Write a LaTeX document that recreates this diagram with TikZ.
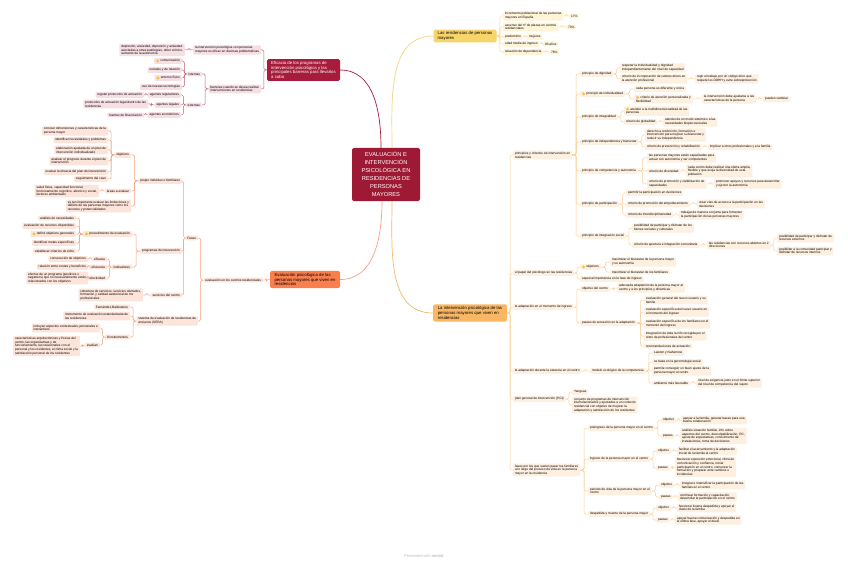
\documentclass[tikz,border=0pt]{standalone}
\usepackage{fontspec}
\setmainfont{Liberation Sans}
\usetikzlibrary{calc}
\definecolor{CoreRed}{RGB}{158,26,52}
\definecolor{EfRed}{RGB}{166,28,58}
\definecolor{EfSoft}{RGB}{246,222,227}
\definecolor{EfLine}{RGB}{196,92,120}
\definecolor{EvOrange}{RGB}{250,126,78}
\definecolor{EvSoft}{RGB}{253,228,218}
\definecolor{EvLine}{RGB}{246,160,128}
\definecolor{ResYellow}{RGB}{247,213,106}
\definecolor{ResSoft}{RGB}{255,244,216}
\definecolor{ResLine}{RGB}{246,214,128}
\definecolor{IntOrange}{RGB}{249,183,100}
\definecolor{IntSoft}{RGB}{254,240,224}
\definecolor{IntLine}{RGB}{250,206,150}
\definecolor{IconYellow}{RGB}{248,197,44}
\newcommand{\faceicon}{\tikz[baseline=-1pt]{\fill[IconYellow] (0,0) circle (1.6pt);}\hspace{1.2pt}}
\tikzset{
  core/.style={fill=CoreRed,text=white,rounded corners=2pt,align=center,
    font=\fontsize{5.7}{8}\selectfont,minimum width=68pt,minimum height=53pt,inner sep=2pt},
  topic/.style={rounded corners=1.5pt,align=left,font=\fontsize{4.3}{4.9}\selectfont,
    inner xsep=3pt,inner ysep=2pt},
  leaf/.style={rounded corners=1pt,align=left,font=\fontsize{3.2}{3.7}\selectfont,
    inner xsep=1.8pt,inner ysep=1.3pt},
  efnode/.style={leaf,fill=EfSoft,anchor=east},
  evnode/.style={leaf,fill=EvSoft,anchor=east},
  resnode/.style={leaf,fill=ResSoft,anchor=west},
  intnode/.style={leaf,fill=IntSoft,anchor=west},
  elbow/.style={rounded corners=1.5pt,line width=0.5pt,
    to path={-- ($(\tikztostart)!0.5!(\tikztostart-|\tikztotarget)$) |- (\tikztotarget)}},
  eflink/.style={elbow,draw=EfLine},
  evlink/.style={elbow,draw=EvLine},
  reslink/.style={elbow,draw=ResLine},
  intlink/.style={elbow,draw=IntLine},
  mainlink/.style={line width=0.7pt}
}
\begin{document}
\begin{tikzpicture}[x=1pt,y=-1pt]
\fill[white] (0,0) rectangle (848,564);
\useasboundingbox (0,0) rectangle (848,564);

% centre and main topics
\node[core] (core) at (386,174.5) {EVALUACIÓN E\\INTERVENCIÓN\\PSICOLÓGICA EN\\RESIDENCIAS DE\\PERSONAS\\MAYORES};
\node[topic,fill=ResYellow,minimum width=63pt,minimum height=12pt] (res) at (465,36) {Las residencias de personas\\mayores};
\node[topic,fill=EfRed,text=white,minimum width=73pt] (ef) at (303.5,70) {Eficacia de los programas de\\intervención psicológica y las\\principales barreras para llevarlos\\a cabo};
\node[topic,fill=EvOrange,minimum width=70pt] (ev) at (305,279.5) {Evaluación psicológica de las\\personas mayores que viven en\\residencias};
\node[topic,fill=IntOrange,minimum width=74pt] (int) at (470,313) {La intervención psicológica de las\\personas mayores que viven en\\residencias};

\draw[mainlink,ResLine] ([xshift=6pt]core.north) to[out=90,in=180] (res.west);
\draw[mainlink,EfRed] ([xshift=-5pt]core.north) to[out=90,in=0] (ef.east);
\draw[mainlink,EvLine] ([xshift=-4pt]core.south) to[out=-90,in=0] (ev.east);
\draw[mainlink,IntOrange] ([xshift=6pt]core.south) to[out=-90,in=180] (int.west);

% las residencias
\node[resnode] (resPob) at (503,16) {incremento poblacional de las personas\\mayores en España};
\node[resnode] (resPob17) at (569,16) {17\%};
\node[resnode] (resPlz) at (503,27) {ascenso del nº de plazas en centros\\residenciales};
\node[resnode] (resPlz73) at (566,27) {73\%};
\node[resnode] (resPred) at (503,37) {predominio};
\node[resnode] (resMuj) at (527,37) {mujeres};
\node[resnode] (resEdad) at (503,44) {edad media de ingreso};
\node[resnode] (resAnos) at (543,44) {83 años};
\node[resnode] (resDep) at (503,52) {situación de dependencia};
\node[resnode] (resDep76) at (549,52) {76\%};

% eficacia
\node[efnode] (efEficaz) at (261,50) {la intervención psicológica con personas\\mayores es eficaz en diversas problemáticas};
\node[efnode] (efPatol) at (185,50) {depresión, ansiedad, depresión y ansiedad\\asociadas a otras patologías, dolor crónico,\\aumento de la autonomía};
\node[efnode] (efBarr) at (261,89) {barreras cuando se desea realizar\\intervenciones en residencias};
\node[efnode] (efInt) at (202,74) {internas};
\node[efnode] (efCom) at (182,61) {\faceicon comunicación};
\node[efnode] (efSoc) at (182,70) {sociales y de relación};
\node[efnode] (efEnt) at (182,78) {\faceicon entorno físico};
\node[efnode] (efTec) at (182,87) {uso de nuevas tecnologías};
\node[efnode] (efExt) at (202,105) {externas};
\node[efnode] (efReg) at (181,95) {agentes reguladores};
\node[efnode] (efLeg) at (181,105) {agentes legales};
\node[efnode] (efEco) at (181,115) {agentes económicos};
\node[efnode] (efProt) at (144,95) {regular protocolos de actuación};
\node[efnode] (efProtL) at (148,104) {protocolos de actuación legal dentro de las\\residencias};
\node[efnode] (efFin) at (144,115) {fuentes de financiación};

% evaluacion
\node[evnode] (evCentros) at (263,280) {evaluación en los centros residenciales};
\node[evnode] (evFases) at (198,238) {Fases};
\node[evnode] (evSera) at (198,321) {sistema de evaluación de residencias de\\ancianos (SERA)};
\node[evnode] (evPropio) at (182,181) {propio individuo o familiares};
\node[evnode] (evProg) at (182,251) {programas de intervención};
\node[evnode] (evServ) at (182,295) {servicios del centro};
\node[evnode] (evObj) at (131,155) {objetivos};
\node[evnode] (evAreas) at (131,191) {áreas a evaluar};
\node[evnode] (evLimit) at (131,206) {es tan importante evaluar las limitaciones y\\déficits de las personas mayores como los\\recursos y potencialidades};
\node[evnode] (evO1) at (108,131) {conocer dimensiones y características de la\\persona mayor};
\node[evnode] (evO2) at (108,140) {identificar necesidades y problemas};
\node[evnode] (evO3) at (108,150) {elaboración ajustada de un plan de\\intervención individualizado};
\node[evnode] (evO4) at (108,161) {analizar el progreso durante el plan de\\intervención};
\node[evnode] (evO5) at (108,172) {evaluar la eficacia del plan de intervención};
\node[evnode] (evO6) at (108,179) {seguimiento del caso};
\node[evnode] (evSalud) at (99,191) {salud física, capacidad funcional,\\funcionamiento cognitivo, afectivo y social,\\factores ambientales};
\node[evnode] (evProc) at (132,234) {\faceicon procedimiento de evaluación};
\node[evnode] (evInd) at (132,267) {indicadores};
\node[evnode] (evP1) at (76,218) {análisis de necesidades};
\node[evnode] (evP2) at (76,226) {evaluación de recursos disponibles};
\node[evnode] (evP3) at (76,234) {\faceicon definir objetivos generales};
\node[evnode] (evP4) at (76,243) {identificar metas específicas};
\node[evnode] (evP5) at (76,251) {establecer criterios de éxito};
\node[evnode] (evEficacia) at (107,259) {eficacia};
\node[evnode] (evEficiencia) at (107,267) {eficiencia};
\node[evnode] (evEfectiv) at (107,278) {efectividad};
\node[evnode] (evConsec) at (88,259) {consecución de objetivos};
\node[evnode] (evCostes) at (88,267) {relación entre costes y beneficios};
\node[evnode] (evEfectos) at (88,278) {efectos de un programa (positivos o\\negativos) que no necesariamente están\\relacionados con los objetivos};
\node[evnode] (evCobert) at (143,295) {cobertura de servicios, servicios ofertados,\\formación y calidad asistencial de los\\profesionales};
\node[evnode] (evFdez) at (130,307) {Fernández-Ballesteros};
\node[evnode] (evEstand) at (130,316) {instrumento de evaluación estandarizada de\\las residencias};
\node[evnode] (evOcho) at (130,337) {8 instrumentos};
\node[evnode] (evIncl) at (100,328) {incluyen aspectos contextuales, personales e\\interactivos};
\node[evnode] (evEvalua) at (100,345) {evalúan};
\node[evnode] (evCaract) at (80,346) {características arquitectónicas y físicas del\\centro, las organizativas y de\\funcionamiento, las relacionales con el\\personal y los residentes, el clima social y la\\satisfacción personal de los residentes};

% intervencion: principios
\node[intnode] (inPrinc) at (513,155) {principios y criterios de intervención en\\residencias};
\node[intnode] (inDign) at (580,74) {principio de dignidad};
\node[intnode] (inDign1) at (620,68) {respetar la individualidad y dignidad\\independientemente del nivel de capacidad};
\node[intnode] (inDign2) at (620,79) {criterio de incorporación de valores éticos en\\la atención profesional};
\node[intnode] (inDign2a) at (695,79) {regir el trabajo por un código ético que\\respete los DDHH y evite sobreprotección};
\node[intnode] (inIndiv) at (580,94) {\faceicon principio de individualidad};
\node[intnode] (inIndiv1) at (634,89) {cada persona es diferente y única};
\node[intnode] (inIndiv2) at (634,99) {\faceicon criterio de atención personalizada y\\flexibilidad};
\node[intnode] (inIndiv2a) at (702,99) {la intervención debe ajustarse a las\\características de la persona};
\node[intnode] (inIndiv2b) at (763,99) {pueden cambiar};
\node[intnode] (inInteg) at (580,117) {principio de integralidad};
\node[intnode] (inInteg1) at (624,111) {\faceicon atender a la multidimensionalidad de las\\personas};
\node[intnode] (inInteg2) at (624,122) {criterio de globalidad};
\node[intnode] (inInteg2a) at (663,122) {atender de un modo sistémico a las\\necesidades biopsicosociales};
\node[intnode] (inIndep) at (580,142) {principio de independencia y bienestar};
\node[intnode] (inIndep1) at (645,135) {derecho a recibir info, formación e\\intervención para mejorar su bienestar y\\reducir su independencia};
\node[intnode] (inIndep2) at (645,147) {criterio de prevención y rehabilitación};
\node[intnode] (inIndep2a) at (708,147) {implicar a otros profesionales y a la familia};
\node[intnode] (inComp) at (580,171) {principio de competencia y autonomía};
\node[intnode] (inComp1) at (647,158) {las personas mayores están capacitadas para\\actuar con autonomía y ser competentes};
\node[intnode] (inComp2) at (647,171) {criterio de diversidad};
\node[intnode] (inComp2a) at (686,171) {cada centro debe realizar una oferta amplia,\\flexible y que acoja la diversidad de esta\\población};
\node[intnode] (inComp3) at (647,184) {criterio de promoción y visibilización de\\capacidades};
\node[intnode] (inComp3a) at (714,184) {promover apoyos y recursos para desarrollar\\y ejercer la autonomía};
\node[intnode] (inPart) at (580,204) {principio de participación};
\node[intnode] (inPart1) at (626,193) {permitir la participación en decisiones};
\node[intnode] (inPart2) at (626,204) {criterio de promoción del empoderamiento};
\node[intnode] (inPart2a) at (697,204) {crear vías de acceso a la participación en las\\decisiones};
\node[intnode] (inPart3) at (626,215) {criterio de interdisciplinariedad};
\node[intnode] (inPart3a) at (679,215) {trabajar de manera conjunta para fomentar\\la participación de las personas mayores};
\node[intnode] (inSoc) at (580,236) {principio de integración social};
\node[intnode] (inSoc1) at (632,228) {posibilidad de participar y disfrutar de los\\bienes sociales y culturales};
\node[intnode] (inSoc2) at (632,245) {criterio de apertura e integración comunitaria};
\node[intnode] (inSoc2a) at (707,245) {las residencias son recursos abiertos en 2\\direcciones};
\node[intnode] (inSoc2b) at (777,238) {posibilidad de participar y disfrutar de\\recursos externos};
\node[intnode] (inSoc2c) at (777,251) {posibilitar a la comunidad participar y\\disfrutar de recursos internos};

% intervencion: psicologo, adaptacion, pgi
\node[intnode] (inPapel) at (513,273) {el papel del psicólogo en las residencias};
\node[intnode] (inPapelObj) at (580,267) {\faceicon objetivos};
\node[intnode] (inPapelObj1) at (610,262) {maximizar el bienestar de la persona mayor\\y su autonomía};
\node[intnode] (inPapelObj2) at (610,272) {maximizar el bienestar de los familiares};
\node[intnode] (inPapelFase) at (580,279) {especial importancia en la fase de ingreso};
\node[intnode] (inIngreso) at (513,307) {la adaptación en el momento de ingreso};
\node[intnode] (inIngObj) at (580,289) {objetivo del centro};
\node[intnode] (inIngObj1) at (617,288) {adecuada adaptación de la persona mayor al\\centro y a los principios y dinámicas};
\node[intnode] (inIngPaut) at (580,323) {pautas de actuación en la adaptación};
\node[intnode] (inIngP1) at (644,300) {evaluación general del nuevo usuario y su\\familia};
\node[intnode] (inIngP2) at (644,312) {evaluación específica del nuevo usuario en\\el momento del ingreso};
\node[intnode] (inIngP3) at (644,324) {evaluación específica de los familiares en el\\momento del ingreso};
\node[intnode] (inIngP4) at (644,336) {integración de toda la info recogida por el\\resto de profesionales del centro};
\node[intnode] (inIngP5) at (644,346) {recomendaciones de actuación};
\node[intnode] (inEstancia) at (513,371) {la adaptación durante la estancia en el centro};
\node[intnode] (inModelo) at (590,371) {modelo ecológico de la competencia};
\node[intnode] (inMod1) at (652,353) {Lawton y Nahemow};
\node[intnode] (inMod2) at (652,362) {se basa en la gerontología social};
\node[intnode] (inMod3) at (652,371) {permite conseguir un buen ajuste de la\\persona mayor al centro};
\node[intnode] (inMod4) at (652,383) {ambiente más favorable};
\node[intnode] (inMod4a) at (696,383) {nivel de exigencia justo en el límite superior\\del nivel de competencia del sujeto};
\node[intnode] (inPgi) at (513,399) {plan general de intervención (PGI)};
\node[intnode] (inPgi1) at (572,392) {Yanguas};
\node[intnode] (inPgi2) at (572,405) {conjunto de programas de intervención\\interrelacionados y ajustados a un contexto\\residencial con objetivo de mejorar la\\adaptación y satisfacción de los residentes};

% intervencion: fases de los familiares
\node[intnode] (inFam) at (513,470) {fases por los que suelen pasar los familiares\\a lo largo del proceso de vida en la persona\\mayor en la residencia};
\node[intnode] (inPre) at (588,428) {preingreso de la persona mayor en el centro};
\node[intnode] (inPreObj) at (661,420) {objetivo};
\node[intnode] (inPreObjT) at (681,420) {apoyar a la familia, generar bases para una\\buena colaboración};
\node[intnode] (inPrePau) at (661,436) {pautas};
\node[intnode] (inPrePauT) at (680,436) {análisis situación familiar, info sobre\\aspectos del centro, desculpabilización, RC,\\ajuste de expectativas, conocimiento de\\instalaciones, toma de decisiones};
\node[intnode] (inIng) at (588,459) {ingreso de la persona mayor en el centro};
\node[intnode] (inIngO) at (656,451) {objetivo};
\node[intnode] (inIngOT) at (677,451) {facilitar el acercamiento y la adaptación\\inicial de la familia al centro};
\node[intnode] (inIngPa) at (656,468) {pautas};
\node[intnode] (inIngPaT) at (675,467) {favorecer expresión emocional, clima de\\comunicación y confianza, iniciar\\participación en el centro, comenzar la\\formación y preparar ante cambios e\\incidencias};
\node[intnode] (inVida) at (588,491) {periodo de vida de la persona mayor en el\\centro};
\node[intnode] (inVidaO) at (659,485) {objetivo};
\node[intnode] (inVidaOT) at (680,485) {integrar e intensificar la participación de las\\familias en el centro};
\node[intnode] (inVidaPa) at (659,497) {pautas};
\node[intnode] (inVidaPaT) at (678,497) {continuar formación y capacitación,\\desarrollar la participación en el centro};
\node[intnode] (inDesp) at (588,514) {despedida y muerte de la persona mayor};
\node[intnode] (inDespO) at (656,508) {objetivo};
\node[intnode] (inDespOT) at (677,508) {favorecer buena despedida y apoyar el\\duelo de la familia};
\node[intnode] (inDespPa) at (656,520) {pautas};
\node[intnode] (inDespPaT) at (675,520) {apoyar buena comunicación y despedida en\\la última fase, apoyar el duelo};

\node[text=black!25,font=\fontsize{4}{4}\selectfont] (credit) at (424,556) {Presented with \textbf{xmind}};

% connectors
\foreach \p/\c in {res/resPob,res/resPlz,res/resPred,res/resEdad,res/resDep,
    resPob/resPob17,resPlz/resPlz73,resPred/resMuj,resEdad/resAnos,resDep/resDep76}
  \draw[reslink] (\p.east) to (\c.west);
\foreach \p/\c in {ef/efEficaz,ef/efBarr,efEficaz/efPatol,efBarr/efInt,efBarr/efExt,
    efInt/efCom,efInt/efSoc,efInt/efEnt,efInt/efTec,efExt/efReg,efExt/efLeg,efExt/efEco,
    efReg/efProt,efLeg/efProtL,efEco/efFin}
  \draw[eflink] (\p.west) to (\c.east);
\foreach \p/\c in {ev/evCentros,evCentros/evFases,evCentros/evSera,evFases/evPropio,
    evFases/evProg,evFases/evServ,evPropio/evObj,evPropio/evAreas,evPropio/evLimit,
    evObj/evO1,evObj/evO2,evObj/evO3,evObj/evO4,evObj/evO5,evObj/evO6,evAreas/evSalud,
    evProg/evProc,evProg/evInd,evProc/evP1,evProc/evP2,evProc/evP3,evProc/evP4,evProc/evP5,
    evInd/evEficacia,evInd/evEficiencia,evInd/evEfectiv,evEficacia/evConsec,
    evEficiencia/evCostes,evEfectiv/evEfectos,evServ/evCobert,evSera/evFdez,
    evSera/evEstand,evSera/evOcho,evOcho/evIncl,evOcho/evEvalua,evEvalua/evCaract}
  \draw[evlink] (\p.west) to (\c.east);
\foreach \p/\c in {int/inPrinc,int/inPapel,int/inIngreso,int/inEstancia,int/inPgi,int/inFam,
    inPrinc/inDign,inPrinc/inIndiv,inPrinc/inInteg,inPrinc/inIndep,inPrinc/inComp,
    inPrinc/inPart,inPrinc/inSoc,inDign/inDign1,inDign/inDign2,inDign2/inDign2a,
    inIndiv/inIndiv1,inIndiv/inIndiv2,inIndiv2/inIndiv2a,inIndiv2a/inIndiv2b,
    inInteg/inInteg1,inInteg/inInteg2,inInteg2/inInteg2a,inIndep/inIndep1,inIndep/inIndep2,
    inIndep2/inIndep2a,inComp/inComp1,inComp/inComp2,inComp/inComp3,inComp2/inComp2a,
    inComp3/inComp3a,inPart/inPart1,inPart/inPart2,inPart/inPart3,inPart2/inPart2a,
    inPart3/inPart3a,inSoc/inSoc1,inSoc/inSoc2,inSoc2/inSoc2a,inSoc2a/inSoc2b,inSoc2a/inSoc2c,
    inPapel/inPapelObj,inPapel/inPapelFase,inPapelObj/inPapelObj1,inPapelObj/inPapelObj2,
    inIngreso/inIngObj,inIngreso/inIngPaut,inIngObj/inIngObj1,inIngPaut/inIngP1,
    inIngPaut/inIngP2,inIngPaut/inIngP3,inIngPaut/inIngP4,inIngPaut/inIngP5,
    inEstancia/inModelo,inModelo/inMod1,inModelo/inMod2,inModelo/inMod3,inModelo/inMod4,
    inMod4/inMod4a,inPgi/inPgi1,inPgi/inPgi2,inFam/inPre,inFam/inIng,inFam/inVida,inFam/inDesp,
    inPre/inPreObj,inPre/inPrePau,inPreObj/inPreObjT,inPrePau/inPrePauT,
    inIng/inIngO,inIng/inIngPa,inIngO/inIngOT,inIngPa/inIngPaT,
    inVida/inVidaO,inVida/inVidaPa,inVidaO/inVidaOT,inVidaPa/inVidaPaT,
    inDesp/inDespO,inDesp/inDespPa,inDespO/inDespOT,inDespPa/inDespPaT}
  \draw[intlink] (\p.east) to (\c.west);
\end{tikzpicture}
\end{document}
